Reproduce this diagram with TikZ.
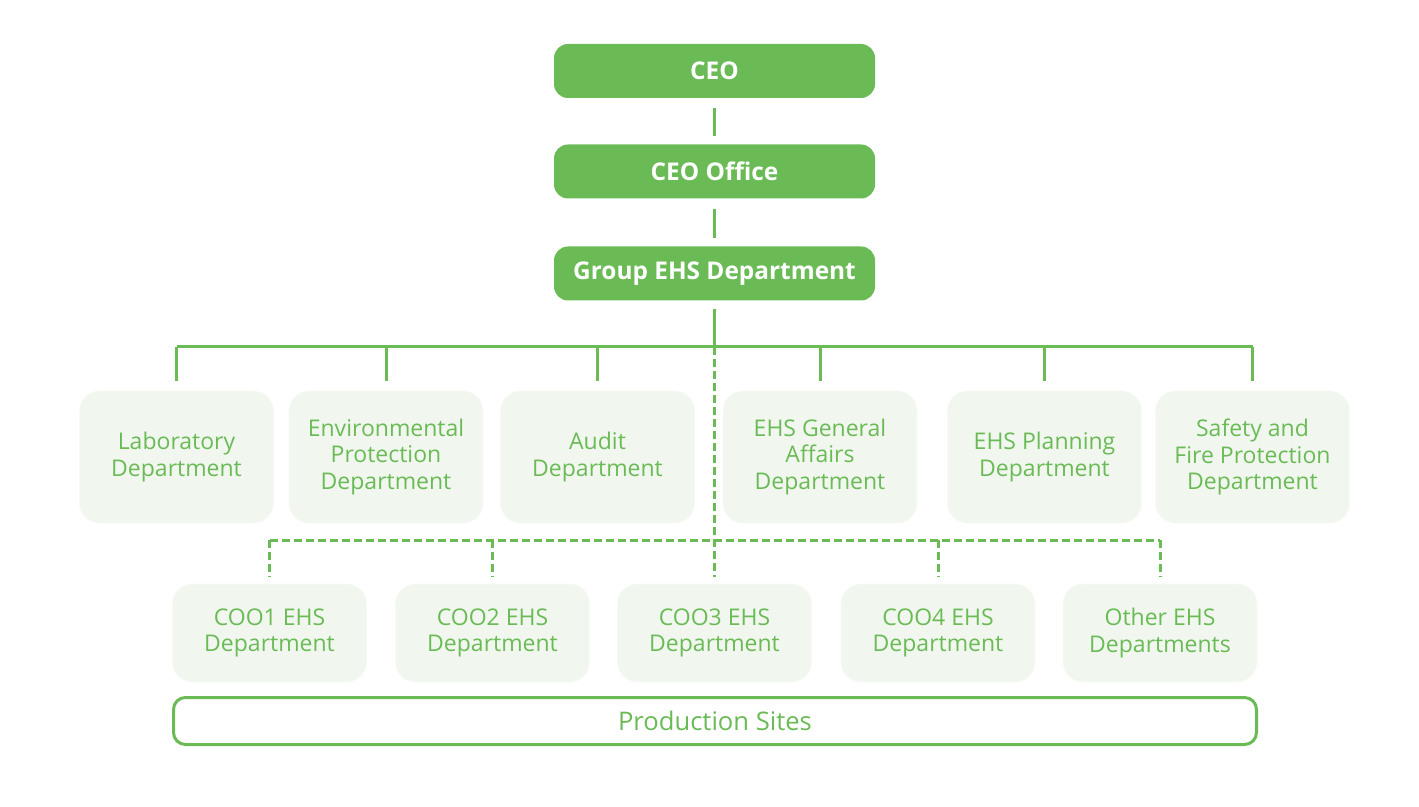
\documentclass[tikz,border=0pt]{standalone}
\usepackage{fontspec}
\setmainfont{Open Sans}
\definecolor{ehsgreen}{RGB}{106,187,86}
\definecolor{ehslight}{RGB}{241,247,239}
\tikzset{
  head/.style={fill=ehsgreen, rounded corners=7pt, minimum width=160.5pt, minimum height=27pt,
    text=white, font=\fontsize{12.2}{15}\selectfont\bfseries},
  dept/.style={fill=ehslight, draw=ehslight!60!white, rounded corners=10pt, minimum width=97pt,
    minimum height=66pt, text=ehsgreen, align=center, font=\fontsize{11.5}{13.3}\selectfont},
  conn/.style={draw=ehsgreen, line width=1.5pt},
  dconn/.style={conn, dash pattern=on 4pt off 2pt}
}
\begin{document}
\begin{tikzpicture}[x=0.5pt,y=-0.5pt]
  \useasboundingbox (0,0) rectangle (1419,807);
  % top chain
  \node[head] (ceo) at (714.5,71) {CEO};
  \node[head] (office) at (714.5,171.5) {CEO Office};
  \node[head] (grp) at (714.5,273.5) {Group EHS Department};
  \draw[conn, shorten <=5pt, shorten >=4pt] (ceo) -- (office);
  \draw[conn, shorten <=5pt, shorten >=4pt] (office) -- (grp);

  % group departments
  \node[dept] (lab) at (176.5,457) {Laboratory\\Department};
  \node[dept] (env) at (386,457) {Environmental\\Protection\\Department};
  \node[dept] (audit) at (597.5,457) {Audit\\Department};
  \node[dept] (gen) at (820,457) {EHS General\\Affairs\\Department};
  \node[dept] (plan) at (1044.5,457) {EHS Planning\\Department};
  \node[dept] (safe) at (1252.5,457) {Safety and\\Fire Protection\\Department};

  \coordinate (bus) at (714.5,347);
  \draw[conn, shorten <=4pt] (grp.south) -- (bus);
  \draw[conn] (lab.north |- bus) -- (safe.north |- bus);
  \foreach \d in {lab,env,audit,gen,plan,safe}
    \draw[conn, shorten >=5pt] (\d.north |- bus) -- (\d.north);

  % COO departments (dashed line)
  \tikzset{dept/.append style={minimum height=49pt}}
  \node[dept] (coo1) at (269.5,633) {COO1 EHS\\Department};
  \node[dept] (coo2) at (492.5,633) {COO2 EHS\\Department};
  \node[dept] (coo3) at (714.5,633) {COO3 EHS\\Department};
  \node[dept] (coo4) at (938,633) {COO4 EHS\\Department};
  \node[dept] (other) at (1160,633) {Other EHS\\Departments};

  \coordinate (dbus) at (714.5,540);
  \draw[dconn, shorten >=3.5pt] (bus) -- (coo3.north);
  \draw[dconn] (coo1.north |- dbus) -- (other.north |- dbus);
  \foreach \d in {coo1,coo2,coo4,other}
    \draw[dconn, shorten >=3.5pt] (\d.north |- dbus) -- (\d.north);

  % production sites
  \node[draw=ehsgreen, line width=1.5pt, fill=white, rounded corners=6pt, minimum width=541.5pt,
    minimum height=23.5pt, text=ehsgreen, font=\fontsize{12.8}{15}\selectfont] (sites) at (715,721) {Production Sites};
\end{tikzpicture}
\end{document}
